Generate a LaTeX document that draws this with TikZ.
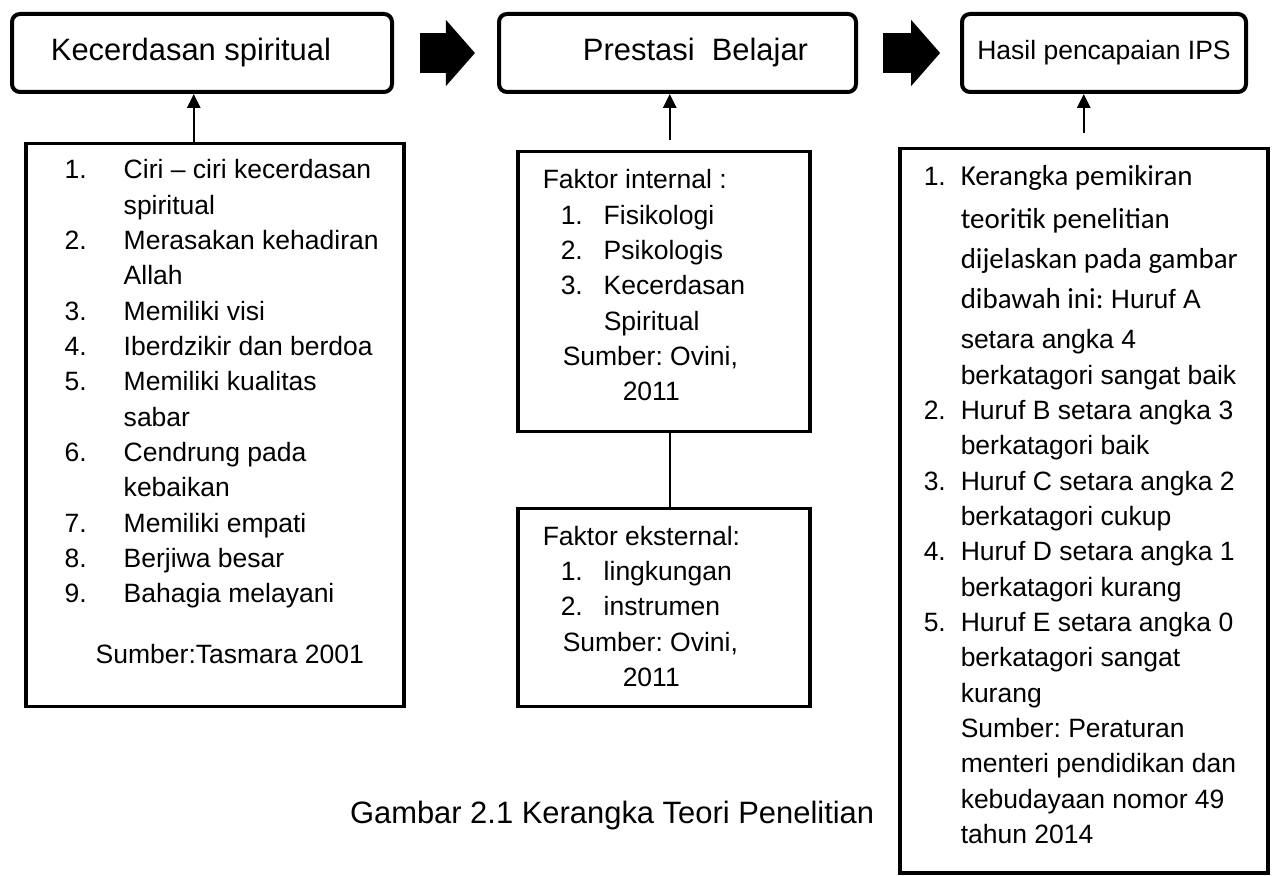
\documentclass[tikz,border=0pt]{standalone}
\usepackage{fontspec}
\setmainfont{Liberation Sans}
\newfontfamily\calibri{Carlito}
\usetikzlibrary{positioning,calc,arrows.meta}
\frenchspacing

\newlength\pxd
\setlength\pxd{0.4528pt}
% one line of a list box, #1 = indent in px
\newcommand{\txtrow}[2]{\hspace*{#1\pxd}#2\strut}
\newcommand{\num}[2]{\makebox[#1\pxd][l]{#2}}
\newcommand{\calfont}{\calibri\fontsize{13.1}{16}\selectfont}

\tikzset{
    topbox/.style={draw, line width=4\pxd, rounded corners=8\pxd, inner sep=0pt,
        anchor=north west, minimum height=78\pxd, font=\fontsize{14}{16}\selectfont},
    listbox/.style={draw, line width=3.5\pxd, inner sep=0pt, anchor=north west},
    bigarrow/.style={line width=40\pxd, -{Triangle[length=13.1pt,width=29.9pt,line width=0pt]}},
    uparrow/.style={line width=2.5\pxd, -{Triangle[length=6.3pt,width=5.9pt]}},
    link/.style={line width=2.5\pxd}
}

\begin{document}
\begin{tikzpicture}[x=1\pxd, y=-1\pxd]
    \path[use as bounding box, fill=white] (0,0) rectangle (1276,876);

    % top row
    \node[topbox, minimum width=380\pxd] (spirit) at (10,12) {Kecerdasan spiritual\hspace*{22\pxd}};
    \node[topbox, minimum width=357\pxd] (prestasi) at (497,12) {\hspace*{36\pxd}Prestasi\ \ Belajar};
    \node[topbox, minimum width=284\pxd, font=\fontsize{12}{16}\selectfont] (hasil) at (960,12) {Hasil pencapaian IPS};

    \draw[bigarrow, shorten <=11.8pt, shorten >=10pt] (spirit.east) -- (prestasi.west);
    \draw[bigarrow, shorten <=11.3pt, shorten >=9pt] (prestasi.east) -- (hasil.west);

    % lists
    \node[listbox] (ciri) at (24,142) {\parbox[t][563\pxd][t]{378\pxd}{\fontsize{12}{16}\selectfont
        \vspace*{10.3\pxd}
        \txtrow{39}{\num{59}{1.}Ciri – ciri kecerdasan}\\
        \txtrow{98}{spiritual}\\
        \txtrow{39}{\num{59}{2.}Merasakan kehadiran}\\
        \txtrow{98}{Allah}\\
        \txtrow{39}{\num{59}{3.}Memiliki visi}\\
        \txtrow{39}{\num{59}{4.}Iberdzikir dan berdoa}\\
        \txtrow{39}{\num{59}{5.}Memiliki kualitas}\\
        \txtrow{98}{sabar}\\
        \txtrow{39}{\num{59}{6.}Cendrung pada}\\
        \txtrow{98}{kebaikan}\\
        \txtrow{39}{\num{59}{7.}Memiliki empati}\\
        \txtrow{39}{\num{59}{8.}Berjiwa besar}\\
        \txtrow{39}{\num{59}{9.}Bahagia melayani}\\[25.7\pxd]
        \txtrow{70}{Sumber:Tasmara 2001}}};

    \node[listbox] (internal) at (516,150) {\parbox[t][280\pxd][t]{292\pxd}{\fontsize{12}{16}\selectfont
        \vspace*{12.3\pxd}
        \txtrow{25}{Faktor internal :}\\
        \txtrow{43}{\num{43}{1.}Fisikologi}\\
        \txtrow{43}{\num{43}{2.}Psikologis}\\
        \txtrow{43}{\num{43}{3.}Kecerdasan}\\
        \txtrow{86}{Spiritual}\\
        \txtrow{45}{Sumber: Ovini,}\\
        \txtrow{105}{2011}}};

    \node[listbox] (eksternal) at (516,507) {\parbox[t][198\pxd][t]{292\pxd}{\fontsize{12}{16}\selectfont
        \vspace*{11.8\pxd}
        \txtrow{25}{Faktor eksternal:}\\
        \txtrow{43}{\num{43}{1.}lingkungan}\\
        \txtrow{43}{\num{43}{2.}instrumen}\\
        \txtrow{45}{Sumber: Ovini,}\\
        \txtrow{105}{2011}}};

    \node[listbox] (nilai) at (898,147) {\parbox[t][724\pxd][t]{368\pxd}{\fontsize{12}{16}\selectfont
        \vspace*{12.3\pxd}
        \txtrow{24}{\num{37}{1.}{\calfont Kerangka pemikiran}}\\[3.5pt]
        \txtrow{61}{{\calfont teoritik penelitian}}\\[2.1pt]
        \txtrow{61}{{\calfont dijelaskan pada gambar}}\\[2.1pt]
        \txtrow{61}{{\calfont dibawah ini:} Huruf A}\\[2.1pt]
        \txtrow{61}{setara angka 4}\\
        \txtrow{61}{berkatagori sangat baik}\\
        \txtrow{24}{\num{37}{2.}Huruf B setara angka 3}\\
        \txtrow{61}{berkatagori baik}\\
        \txtrow{24}{\num{37}{3.}Huruf C setara angka 2}\\
        \txtrow{61}{berkatagori cukup}\\
        \txtrow{24}{\num{37}{4.}Huruf D setara angka 1}\\
        \txtrow{61}{berkatagori kurang}\\
        \txtrow{24}{\num{37}{5.}Huruf E setara angka 0}\\
        \txtrow{61}{berkatagori sangat}\\
        \txtrow{61}{kurang}\\
        \txtrow{61}{Sumber: Peraturan}\\
        \txtrow{61}{menteri pendidikan dan}\\
        \txtrow{61}{kebudayaan nomor 49}\\
        \txtrow{61}{tahun 2014}}};

    % connectors
    \coordinate (ciritop) at ($(ciri.north)+(-21,0)$);
    \coordinate (inttop) at ($(internal.north)+(6,0)$);
    \draw[uparrow] (ciritop) -- (ciritop |- spirit.south);
    \draw[uparrow, shorten <=4.5pt] (inttop) -- (inttop |- prestasi.south);
    \draw[uparrow, shorten <=6.3pt] (nilai.north) -- (nilai.north |- hasil.south);
    \draw[link] ($(internal.south)+(6,0)$) -- ($(eksternal.north)+(6,0)$);

    \node[anchor=base east, font=\fontsize{14}{16}\selectfont] (judul) at (882,823) {Gambar 2.1 Kerangka Teori Penelitian};
\end{tikzpicture}
\end{document}
